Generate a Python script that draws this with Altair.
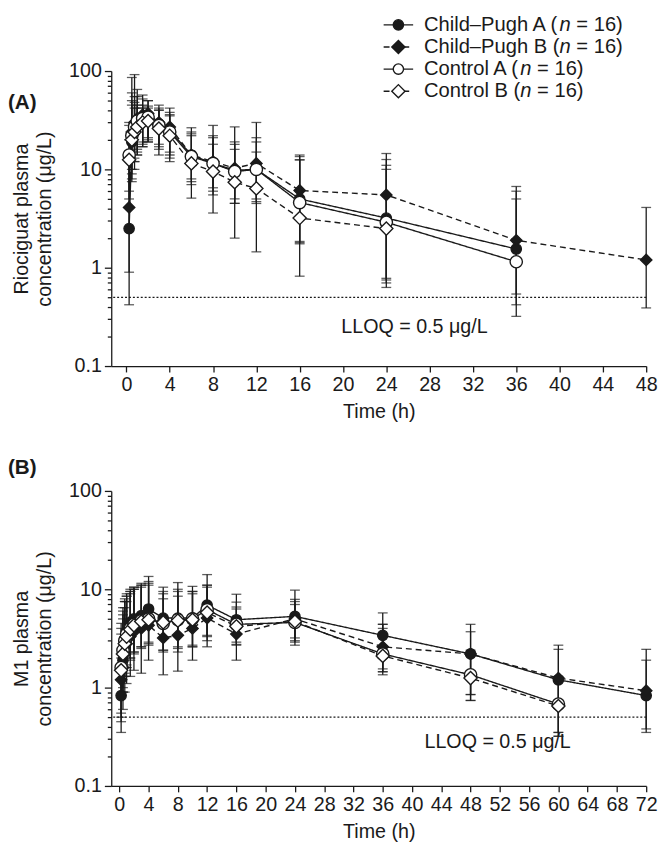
import altair as alt
import pandas as pd

# ---------------- data ----------------
groups = ["Child–Pugh A", "Child–Pugh B", "Control A", "Control B"]
legend_pre = ["Child–Pugh A (", "Child–Pugh B (", "Control A (", "Control B ("]
legend_post = "= 16)"

# Panel A: riociguat
time_a = [0.25, 0.5, 0.75, 1, 1.5, 2, 3, 4, 6, 8, 10, 12, 16, 24, 36, 48]
mean_a = {
    "Child–Pugh A": [2.5, 19, 24, 30, 34, 35, 29, 25, 14, 11.5, 9.8, 10, 5.0, 3.2, 1.55, None],
    "Child–Pugh B": [4.1, 24, 30, 33, 36, 37, 30, 27, 14, 12, 10.3, 11.5, 6.1, 5.5, 1.9, 1.2],
    "Control A":    [14, 22, 27, 31, 33, 34, 28, 24, 13.5, 11.5, 9.5, 10, 4.6, 2.9, 1.15, None],
    "Control B":    [12.5, 20, 24, 27, 30, 31, 26, 22, 11.5, 9.5, 7.4, 6.4, 3.2, 2.5, None, None],
}
lo_a = {
    "Child–Pugh A": [0.42, 8, 12, 15, 18, 20, 16, 13, 7.5, 6, 4.5, 4.7, 1.8, 0.78, 0.42, None],
    "Child–Pugh B": [0.9, 7.5, 10, 14, 17, 19, 14, 12, 5.1, 3.6, 2.0, 1.45, 0.82, 0.63, 0.32, 0.39],
    "Control A":    [6, 10, 13, 16, 19, 21, 18, 15, 8, 6.5, 5, 5, 1.85, 0.70, 0.54, None],
    "Control B":    [5, 9, 12, 14, 17, 19, 17, 14, 7, 5.5, 4.5, 4.5, 1.75, 0.75, None, None],
}
hi_a = {
    "Child–Pugh A": [14, 60, 55, 55, 52, 50, 42, 38, 23, 22, 19, 21, 12.5, 12.6, 5.0, None],
    "Child–Pugh B": [20, 86, 92, 65, 57, 50, 45, 42, 26.5, 28, 27, 30, 14, 14.5, 6.7, 4.1],
    "Control A":    [30, 50, 48, 45, 45, 44, 40, 36, 24, 21, 18, 19, 13.5, 10, 6.0, None],
    "Control B":    [28, 45, 42, 42, 42, 42, 40, 35, 22, 18, 16, 15, 12.5, 11, None, None],
}

# Panel B: M1
time_b = [0.25, 0.5, 0.75, 1, 1.5, 2, 3, 4, 6, 8, 10, 12, 16, 24, 36, 48, 60, 72]
mean_b = {
    "Child–Pugh A": [0.83, 1.9, 2.7, 3.4, 4.6, 5.0, 5.4, 6.3, 5.1, 5.1, 5.1, 6.9, 4.9, 5.3, 3.4, 2.2, 1.2, 0.83],
    "Child–Pugh B": [1.2, 1.6, 2.2, 2.8, 3.3, 3.7, 4.0, 4.3, 3.2, 3.4, 4.0, 5.1, 3.5, 5.0, 2.6, 2.2, 1.25, 0.93],
    "Control A":    [1.6, 2.4, 3.0, 3.5, 4.0, 4.4, 4.8, 5.0, 4.5, 4.9, 5.0, 6.2, 4.4, 4.6, 2.2, 1.35, 0.68, None],
    "Control B":    [1.5, 2.2, 2.8, 3.3, 3.9, 4.3, 4.7, 4.9, 4.6, 4.8, 4.9, 5.8, 4.2, 4.7, 2.1, 1.25, 0.65, None],
}
lo_b = {
    "Child–Pugh A": [0.45, 0.9, 1.3, 1.6, 2.0, 2.3, 2.6, 2.9, 2.3, 2.3, 2.6, 3.3, 2.75, 3.2, 1.55, 0.85, 0.32, 0.35],
    "Child–Pugh B": [0.35, 0.6, 0.9, 1.1, 1.3, 1.5, 1.4, 1.9, 1.35, 1.47, 1.9, 2.6, 1.9, 2.7, 1.45, 0.74, 0.35, 0.38],
    "Control A":    [0.55, 1.0, 1.4, 1.7, 2.0, 2.3, 2.6, 2.8, 2.4, 2.6, 2.7, 3.4, 2.9, 3.0, 1.35, 0.74, 0.32, None],
    "Control B":    [0.5, 0.9, 1.3, 1.6, 1.9, 2.2, 2.5, 2.7, 2.4, 2.5, 2.6, 3.0, 2.7, 2.9, 1.45, 0.85, 0.35, None],
}
hi_b = {
    "Child–Pugh A": [2.0, 5.5, 7.5, 8.5, 9.5, 10.5, 11.5, 13.5, 10.5, 11.7, 10.7, 14.1, 8.9, 9.8, 5.75, 4.4, 2.7, 2.45],
    "Child–Pugh B": [3.5, 5.0, 6.5, 7.5, 9.0, 10.0, 11.0, 12.0, 8.0, 8.5, 9.5, 11.0, 7.4, 7.9, 4.4, 3.7, 2.45, 1.9],
    "Control A":    [4.5, 6.5, 8, 9, 10, 10.5, 11, 11.5, 9.5, 10, 9.5, 11, 6.6, 7.5, 4.4, 2.4, 1.3, None],
    "Control B":    [4.0, 6.0, 7.5, 8.5, 9.5, 10, 10.5, 11, 9, 9.5, 9, 10.5, 6.3, 7.0, 4.0, 2.2, 1.2, None],
}

y_major = [0.1, 1, 10, 100]
y_minor_mult = [2, 3, 4, 5, 6, 7, 8, 9]
x_ticks_a = list(range(0, 49, 4))
x_ticks_b = list(range(0, 73, 4))
lloq = 0.5

# ---------------- style ----------------
FONT = "Liberation Sans"
INK = "#1a1a1a"
dash_range = [[1, 0], [6, 4], [1, 0], [6, 4]]
shape_range = ["circle", "diamond", "circle", "diamond"]
fill_range = [INK, INK, "white", "white"]
size_range = [110, 180, 110, 180]
W, H = 544, 300


def to_long(times, means, los, his):
    rows = []
    for g in groups:
        for i, t in enumerate(times):
            m = means[g][i]
            if m is None:
                continue
            rows.append({"group": g, "t": t, "mean": m, "lo": los[g][i], "hi": his[g][i]})
    return pd.DataFrame(rows)


y_vals = sorted(set([round(d * k, 6) for d in y_major[:-1] for k in [1] + y_minor_mult] + y_major))
is_major = "abs(log(datum.value)/LN10 - round(log(datum.value)/LN10)) < 0.000001"


def panel(df, times_ticks, xdomain, ytitle, label, lloq_x, lloq_y, legend=False):
    xs = alt.Scale(domain=xdomain, nice=False, zero=False)
    ys = alt.Scale(type="log", domain=[0.1, 100], nice=False)
    x_axis = alt.Axis(values=times_ticks, title="Time (h)", tickSize=6, labelPadding=3,
                      titlePadding=7, grid=False, labelOverlap=False, labelFlush=False,
                      labelSeparation=0)
    y_axis = alt.Axis(values=y_vals, title=ytitle, grid=False,
                      labelExpr=f"{is_major} ? datum.label : ''",
                      tickSize={"condition": {"test": is_major, "value": 7}, "value": 4},
                      labelPadding=3, titlePadding=14, labelOverlap=False, labelFlush=False)
    X = alt.X("t:Q", scale=xs, axis=x_axis)
    base = alt.Chart(df)
    rules = base.mark_rule(color=INK, strokeWidth=1.3).encode(
        x=X, y=alt.Y("lo:Q", scale=ys, axis=y_axis), y2="hi:Q")
    cap_lo = base.mark_tick(orient="horizontal", color=INK, size=10, thickness=1.3).encode(
        x=X, y=alt.Y("lo:Q", scale=ys, axis=y_axis))
    cap_hi = base.mark_tick(orient="horizontal", color=INK, size=10, thickness=1.3).encode(
        x=X, y=alt.Y("hi:Q", scale=ys, axis=y_axis))
    lines = base.mark_line(color=INK, strokeWidth=1.4).encode(
        x=X, y=alt.Y("mean:Q", scale=ys, axis=y_axis),
        detail="group:N",
        strokeDash=alt.StrokeDash("group:N", scale=alt.Scale(domain=groups, range=dash_range), legend=None))
    pts = base.mark_point(filled=True, stroke=INK, strokeWidth=1.4, opacity=1).encode(
        x=X, y=alt.Y("mean:Q", scale=ys, axis=y_axis),
        shape=alt.Shape("group:N", scale=alt.Scale(domain=groups, range=shape_range), legend=None),
        fill=alt.Fill("group:N", scale=alt.Scale(domain=groups, range=fill_range), legend=None),
        size=alt.Size("group:N", scale=alt.Scale(domain=groups, range=size_range), legend=None))
    lloq_rule = alt.Chart().mark_rule(color=INK, strokeDash=[2, 2], strokeWidth=1.2).encode(
        y=alt.Y(datum=lloq, scale=ys, axis=y_axis))
    lloq_text = alt.Chart().mark_text(text="LLOQ = 0.5 μg/L", font=FONT, fontSize=20, color=INK).encode(
        x=alt.X(datum=lloq_x, scale=xs, axis=x_axis), y=alt.Y(datum=lloq_y, scale=ys, axis=y_axis))
    lab = alt.Chart().mark_text(text=label, font=FONT, fontSize=21, fontWeight="bold", color=INK,
                                align="left", baseline="middle").encode(
        x=alt.value(-105), y=alt.value(33 if legend else -23))
    layers = [rules, cap_lo, cap_hi, lines, pts, lloq_rule, lloq_text, lab]
    if legend:
        fs = 20.5
        lx0, lx1, mx, tx = 277, 307, 292, 318
        row_y = [-47, -24.5, -2, 20.5]
        pre_em = [6.725, 6.725, 4.779, 4.779]
        for i, g in enumerate(groups):
            yv = row_y[i]
            layers.append(alt.Chart().mark_rule(color=INK, strokeWidth=1.4, strokeDash=dash_range[i]).encode(
                x=alt.value(lx0), x2=alt.value(lx1), y=alt.value(yv)))
            layers.append(alt.Chart().mark_point(filled=True, stroke=INK, strokeWidth=1.4, opacity=1,
                                                 shape=shape_range[i], fill=fill_range[i],
                                                 size=size_range[i]).encode(
                x=alt.value(mx), y=alt.value(yv)))
            layers.append(alt.Chart().mark_text(text=legend_pre[i], font=FONT, fontSize=fs, color=INK,
                                                align="left", baseline="middle").encode(
                x=alt.value(tx), y=alt.value(yv)))
            layers.append(alt.Chart().mark_text(text="n", font=FONT, fontSize=fs, fontStyle="italic",
                                                color=INK, align="left", baseline="middle").encode(
                x=alt.value(tx + pre_em[i] * fs), y=alt.value(yv)))
            layers.append(alt.Chart().mark_text(text=legend_post, font=FONT, fontSize=fs, color=INK,
                                                align="left", baseline="middle").encode(
                x=alt.value(tx + (pre_em[i] + 0.556 + 0.278) * fs), y=alt.value(yv)))
    return alt.layer(*layers).properties(width=W, height=H)


df_a = to_long(time_a, mean_a, lo_a, hi_a)
df_b = to_long(time_b, mean_b, lo_b, hi_b)

pa = panel(df_a, x_ticks_a, [-1.4, 48], ["Riociguat plasma", "concentration (μg/L)"], "(A)",
           26.6, 0.25, legend=True)
pb = panel(df_b, x_ticks_b, [-1.1, 72], ["M1 plasma", "concentration (μg/L)"], "(B)",
           51.7, 0.28)

chart = alt.vconcat(pa, pb, spacing=37).configure(
    padding={"left": 0, "top": 0, "right": 0, "bottom": 0},
    font=FONT,
).configure_view(stroke=None).configure_axis(
    domainColor=INK, domainWidth=1.3, tickColor=INK, tickWidth=1.3,
    labelFont=FONT, labelFontSize=20, labelColor=INK,
    titleFont=FONT, titleFontSize=20, titleFontWeight="normal", titleColor=INK,
    titleLineHeight=24, labelOverlap=False, labelSeparation=0,
)

chart.save("out.html", embed_options={"renderer": "svg", "actions": False})
